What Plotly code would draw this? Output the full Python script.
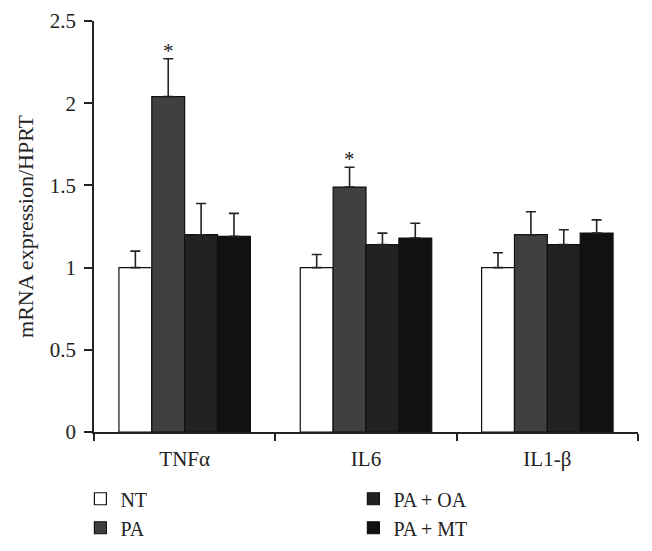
import plotly.graph_objects as go

categories = ["TNF\u03b1", "IL6", "IL1-\u03b2"]
series_names = ["NT", "PA", "PA + OA", "PA + MT"]
nt_vals = [1.00, 1.00, 1.00]
nt_err = [0.10, 0.08, 0.09]
pa_vals = [2.04, 1.49, 1.20]
pa_err = [0.23, 0.12, 0.14]
oa_vals = [1.20, 1.14, 1.14]
oa_err = [0.19, 0.07, 0.09]
mt_vals = [1.19, 1.18, 1.21]
mt_err = [0.14, 0.09, 0.08]
colors = ["#ffffff", "#404040", "#222222", "#111111"]
legend_ranks = [1, 3, 2, 4]
y_ticks = [0, 0.5, 1, 1.5, 2, 2.5]
y_tick_labels = ["0", "0.5", "1", "1.5", "2", "2.5"]
star_flags = [True, True, False]

FONT = "Liberation Serif"
bargap = 0.275

fig = go.Figure()
all_vals = [nt_vals, pa_vals, oa_vals, mt_vals]
all_errs = [nt_err, pa_err, oa_err, mt_err]
for name, vals, errs, col, rank in zip(series_names, all_vals, all_errs, colors, legend_ranks):
    fig.add_trace(go.Bar(
        x=categories, y=vals, name=name,
        marker=dict(color=col, line=dict(color="#111111", width=1.2)),
        error_y=dict(type="data", array=errs, arrayminus=[0] * len(errs), symmetric=False,
                     color="#222222", thickness=1.6, width=5),
        legendrank=rank,
    ))

# significance stars above PA bars
group_w = 1 - bargap
bar_w = group_w / len(series_names)
pa_offset = -group_w / 2 + 1.5 * bar_w
for i, flag in enumerate(star_flags):
    if flag:
        fig.add_annotation(x=i + pa_offset, y=pa_vals[i] + pa_err[i], text="*",
                           showarrow=False, yanchor="bottom", yshift=-6,
                           font=dict(family=FONT, size=21, color="#222222"))

# page body has an 8px margin, so the figure is 8px smaller than the window
fig.update_layout(
    width=644, height=543,
    margin=dict(l=86, r=14, t=13, b=119, autoexpand=False),
    plot_bgcolor="white", paper_bgcolor="white",
    barmode="group", bargap=bargap, bargroupgap=0,
    font=dict(family=FONT, size=21, color="#222222"),
    showlegend=True,
    legend=dict(orientation="h", x=-0.025, xanchor="left", y=-0.115, yanchor="top",
                entrywidth=228, entrywidthmode="pixels", itemwidth=30,
                font=dict(family=FONT, size=20, color="#222222"),
                tracegroupgap=0, traceorder="normal"),
)
fig.update_xaxes(
    type="category", showline=True, linecolor="#222222", linewidth=1.5,
    ticks="outside", tickson="boundaries", ticklen=7, tickcolor="#222222", tickwidth=1.5,
    tickfont=dict(family=FONT, size=21, color="#222222"),
    ticklabelstandoff=7,
    showgrid=False, zeroline=False, automargin=False,
)
fig.update_yaxes(
    range=[0, 2.5], tickvals=y_ticks, ticktext=y_tick_labels,
    showline=True, linecolor="#222222", linewidth=1.5,
    ticks="outside", ticklen=8, tickcolor="#222222", tickwidth=1.5,
    tickfont=dict(family=FONT, size=21, color="#222222"),
    ticklabelstandoff=4,
    showgrid=False, zeroline=False, automargin=False,
    title=dict(text="mRNA expression/HPRT", font=dict(family=FONT, size=22, color="#222222"), standoff=10),
)

fig.write_html("out.html")
